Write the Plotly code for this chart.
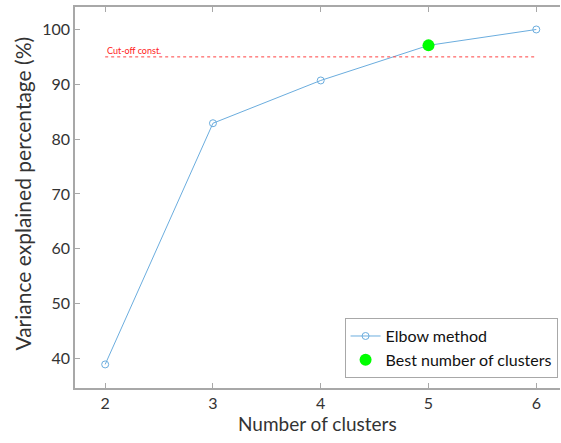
import plotly.graph_objects as go

clusters = [2, 3, 4, 5, 6]
variance_pct = [38.9, 82.9, 90.7, 97.1, 100.0]
best_k = [5]
best_val = [97.1]
cutoff = 95
cutoff_label = "Cut-off const."
x_title = "Number of clusters"
y_title = "Variance explained percentage (%)"

FONT = "Lato"
fig = go.Figure()
fig.add_trace(go.Scatter(
    x=clusters, y=variance_pct, mode="lines+markers", name="Elbow method",
    line=dict(color="#6badde", width=1),
    marker=dict(symbol="circle-open", size=7, color="#6badde", line=dict(width=1)),
))
fig.add_trace(go.Scatter(
    x=best_k, y=best_val, mode="markers", name="Best number of clusters",
    marker=dict(symbol="circle", size=12, color="#00ff00"),
))
fig.add_trace(go.Scatter(
    x=[clusters[0], clusters[-1]], y=[cutoff, cutoff], mode="lines",
    line=dict(color="#ff4040", width=1, dash="dot"), showlegend=False, hoverinfo="skip",
))
fig.add_annotation(x=clusters[0], y=cutoff, text=cutoff_label, showarrow=False,
                   xanchor="left", yanchor="bottom", yshift=-1,
                   font=dict(family=FONT, size=9, color="#ff2020"))
fig.add_annotation(x=0.5, y=0, xref="paper", yref="paper", text=x_title, showarrow=False,
                   xanchor="center", yanchor="middle", yshift=-35,
                   font=dict(family=FONT, size=19, color="#333333"))
fig.add_annotation(x=0, y=0.5, xref="paper", yref="paper", text=y_title, showarrow=False,
                   textangle=-90, xanchor="center", yanchor="middle", xshift=-53, yshift=4,
                   font=dict(family=FONT, size=21, color="#333333"))

axis_common = dict(showline=True, linecolor="#a8a8a8", linewidth=1.5, ticks="inside",
                   ticklen=5, tickcolor="#a8a8a8", showgrid=False, zeroline=False,
                   automargin=False,
                   tickfont=dict(family=FONT, size=16, color="#333333"))
fig.update_xaxes(range=[1.72, 6.22], tickvals=clusters, mirror="ticks", **axis_common)
fig.update_yaxes(range=[34.6, 104.1], tickvals=[40, 50, 60, 70, 80, 90, 100], mirror=False,
                 **axis_common)
fig.update_layout(
    width=561, height=443, margin=dict(l=75, r=1, t=7, b=55),
    plot_bgcolor="white", paper_bgcolor="white",
    legend=dict(x=0.995, y=0.026, xanchor="right", yanchor="bottom",
                bordercolor="#a8a8a8", borderwidth=1, bgcolor="white",
                font=dict(family=FONT, size=16, color="#111111"),
                tracegroupgap=0, itemwidth=30),
)
fig.write_html("out.html", config={"displayModeBar": False},
               post_script="document.body.style.margin='0px';")
